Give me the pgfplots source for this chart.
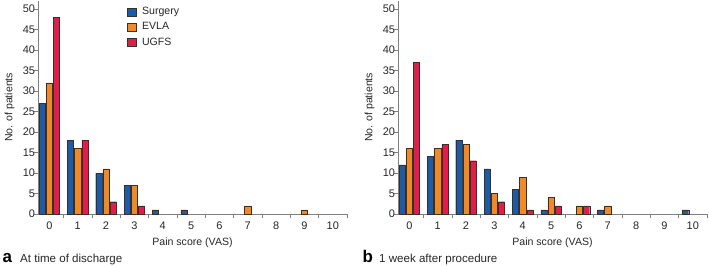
\documentclass[border=0pt]{standalone}
\usepackage{fontspec}
\setmainfont{Liberation Sans}
\usepackage{pgfplots}
\pgfplotsset{compat=1.18}
\definecolor{cSur}{HTML}{1D5BA6}
\definecolor{cEvl}{HTML}{EE8A2A}
\definecolor{cUgf}{HTML}{E21D4B}
\definecolor{cEdge}{HTML}{3A2E28}
\definecolor{cAx}{HTML}{808080}
\pgfplotsset{
  painaxis/.style={
    scale only axis, width=309bp, height=213.2bp,
    xmin=-0.4, xmax=10.5, ymin=0, ymax=52,
    axis x line*=bottom, axis y line*=left,
    axis line style={-, cAx, line width=0.6bp},
    every tick/.style={cAx, line width=0.6bp},
    xtick={0.5,1.5,...,10.5}, xticklabels={0,1,2,3,4,5,6,7,8,9,10},
    x tick label style={xshift=-14.17bp, yshift=-0.5bp},
    ytick={0,5,...,50},
    major tick length=4bp, tick align=inside,
    y tick style={xshift=-4bp},
    y tick label style={xshift=0.5bp},
    /pgf/number format/assume math mode=true,
    tick label style={font=\fontsize{11}{13}\selectfont, text=black!85},
    label style={font=\fontsize{10.6}{12}\selectfont, text=black!85},
    xlabel={Pain score (VAS)}, ylabel={No. of patients},
    xlabel style={yshift=-1bp},
    ylabel style={yshift=1.5bp},
    ybar, bar width=6.2bp,
    every axis plot/.append style={draw=cEdge, line width=0.4bp},
    clip=false,
  },
}
\begin{document}
\begin{tikzpicture}
\useasboundingbox (0,0) rectangle (709bp,266bp);
\begin{axis}[painaxis, at={(38bp,52bp)}, anchor=south west,
  legend style={at={(0.288,0.975)}, anchor=north west, draw=none, fill=none,
    inner sep=0pt, row sep=4.5bp, font=\fontsize{10.6}{12}\selectfont,
    nodes={inner sep=1bp, text=black!85},
    /tikz/every odd column/.append style={column sep=5bp}},
  legend cell align=left,
  legend image code/.code={\draw[#1] (0bp,-4bp) rectangle (8.5bp,4bp);},
  ]
\addplot[fill=cSur, bar shift=-7.2bp] coordinates {(0,27) (1,18) (2,10) (3,7) (4,1) (5,1)};
\addplot[fill=cEvl, bar shift=0bp] coordinates {(0,32) (1,16) (2,11) (3,7) (7,2) (9,1)};
\addplot[fill=cUgf, bar shift=7.2bp] coordinates {(0,48) (1,18) (2,3) (3,2)};
\legend{Surgery, EVLA, UGFS}
\end{axis}
\begin{axis}[painaxis, at={(398bp,52bp)}, anchor=south west]
\addplot[fill=cSur, bar shift=-7.2bp] coordinates {(0,12) (1,14) (2,18) (3,11) (4,6) (5,1) (7,1) (10,1)};
\addplot[fill=cEvl, bar shift=0bp] coordinates {(0,16) (1,16) (2,17) (3,5) (4,9) (5,4) (6,2) (7,2)};
\addplot[fill=cUgf, bar shift=7.2bp] coordinates {(0,37) (1,17) (2,13) (3,3) (4,1) (5,2) (6,2)};
\end{axis}
\node[anchor=base west, inner sep=0pt, font=\fontsize{17}{17}\bfseries\selectfont] at (2.5bp,4bp) {a};
\node[anchor=base west, inner sep=0pt, font=\fontsize{11.6}{14}\selectfont, text=black!85] at (20bp,4bp) {At time of discharge};
\node[anchor=base west, inner sep=0pt, font=\fontsize{17}{17}\bfseries\selectfont] at (362.5bp,4bp) {b};
\node[anchor=base west, inner sep=0pt, font=\fontsize{11.6}{14}\selectfont, text=black!85] at (379bp,4bp) {1 week after procedure};
\end{tikzpicture}
\end{document}
